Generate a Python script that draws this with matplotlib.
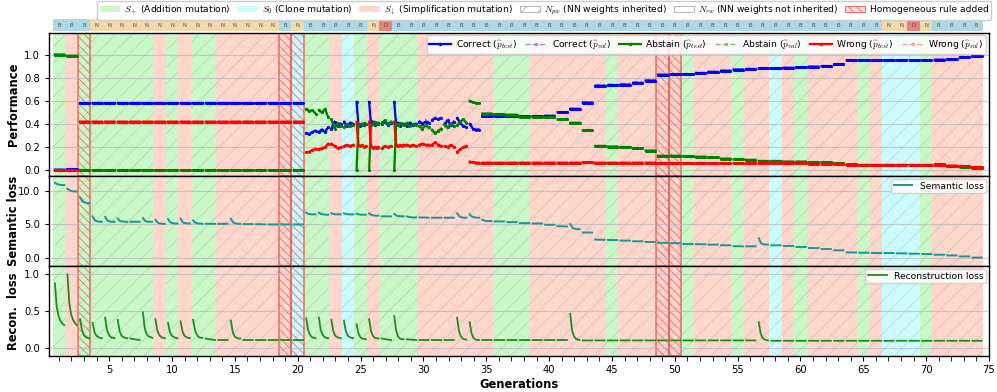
import numpy as np
import matplotlib
matplotlib.use('Agg')
import matplotlib.pyplot as plt
from matplotlib.patches import Patch
from matplotlib.lines import Line2D
from matplotlib.ticker import MultipleLocator, FormatStrFormatter

plt.rcParams['font.family'] = ['DejaVu Sans']
plt.rcParams['mathtext.fontset'] = 'cm'
plt.rcParams['hatch.linewidth'] = 0.7

GENERATIONS = list(range(1, 75))

# Mutation type per generation: a = addition (S+), c = clone (S0), s = simplification
MUTATION = ("asa" + "aaaaa" + "s" + "a" + "s" + "aa" + "ssssss" + "c" + "aa" + "s" + "c" + "a" + "s"
            + "aaa" + "ssssss" + "aaa" + "ssssss" + "a" + "sssss" + "a" + "sss" + "a" + "ss" + "c"
            + "s" + "a" + "ssss" + "a" + "s" + "ccc" + "a" + "ssss")

# Letter shown in the strip above the plot
MODEL = "BBB" + "N" * 15 + "B" + "N" + "BBBBB" + "N" + "D" + "B" * 39 + "NN" + "D" + "N" + "BBBB"

HOMOGENEOUS = [3, 19, 20, 49, 50]
NOT_INHERITED = [2, 9, 11, 23]

# Performance, one entry per generation (single value = flat over the generation)
CORRECT_TEST = (
    [0.005, 0.01] + [0.58] * 18 +
    [[0.32, 0.31, 0.33, 0.34], [0.33, 0.35, 0.33, 0.37], [0.36, 0.42, 0.38, 0.40], [0.42, 0.38, 0.41, 0.40],
     [0.59, 0.40, 0.38, 0.40, 0.39, 0.40], [0.59, 0.40, 0.42, 0.39, 0.41, 0.40], [0.40, 0.42, 0.39, 0.41],
     [0.59, 0.39, 0.41, 0.38, 0.40, 0.40], [0.38, 0.41, 0.39, 0.40], [0.42, 0.40, 0.42, 0.41],
     [0.43, 0.45, 0.44, 0.45], [0.40, 0.43, 0.39, 0.42], [0.45, 0.41, 0.38, 0.37], [0.40, 0.36, 0.35, 0.35]] +
    [0.47, 0.47, 0.465, 0.465, 0.465, 0.47, 0.50, 0.53, 0.585, 0.73,
     0.735, 0.74, 0.755, 0.775, 0.825, 0.83, 0.83, 0.84, 0.85, 0.86,
     0.87, 0.875, 0.88, 0.88, 0.885, 0.89, 0.895, 0.90, 0.915, 0.95,
     0.95, 0.95, 0.95, 0.95, 0.95, 0.95, 0.955, 0.96, 0.975, 0.99]
)
CORRECT_VAL = (
    [0.005, 0.01] + [0.58] * 18 +
    [[0.33, 0.32, 0.34, 0.35], [0.34, 0.36, 0.35, 0.37], [0.38, 0.41, 0.39, 0.41], [0.41, 0.39, 0.42, 0.41],
     [0.59, 0.41, 0.39, 0.41, 0.40, 0.41], [0.59, 0.41, 0.43, 0.40, 0.42, 0.41], [0.41, 0.43, 0.40, 0.42],
     [0.59, 0.40, 0.42, 0.39, 0.41, 0.41], [0.40, 0.42, 0.40, 0.41], [0.43, 0.41, 0.44, 0.42],
     [0.44, 0.46, 0.45, 0.46], [0.41, 0.44, 0.40, 0.43], [0.46, 0.42, 0.39, 0.38], [0.41, 0.37, 0.36, 0.36]] +
    [0.475, 0.475, 0.47, 0.47, 0.47, 0.475, 0.505, 0.535, 0.59, 0.74,
     0.745, 0.75, 0.765, 0.785, 0.83, 0.835, 0.835, 0.845, 0.855, 0.865,
     0.875, 0.88, 0.885, 0.885, 0.89, 0.895, 0.90, 0.905, 0.92, 0.955,
     0.955, 0.955, 0.955, 0.955, 0.955, 0.955, 0.96, 0.965, 0.98, 0.995]
)
ABSTAIN_TEST = (
    [1.0, 0.99] + [0.0] * 18 +
    [[0.53, 0.51, 0.52, 0.49], [0.52, 0.50, 0.53, 0.46], [0.44, 0.36, 0.41, 0.38], [0.37, 0.40, 0.38, 0.39],
     [0.0, 0.38, 0.40, 0.39, 0.41, 0.40], [0.0, 0.39, 0.40, 0.42, 0.40, 0.41], [0.41, 0.43, 0.40, 0.42],
     [0.0, 0.40, 0.39, 0.41, 0.40, 0.39], [0.41, 0.38, 0.40, 0.39], [0.38, 0.36, 0.39, 0.37],
     [0.35, 0.32, 0.34, 0.36], [0.39, 0.37, 0.40, 0.38], [0.39, 0.42, 0.44, 0.41], [0.60, 0.59, 0.58, 0.58]] +
    [0.49, 0.485, 0.48, 0.46, 0.46, 0.46, 0.44, 0.41, 0.345, 0.21,
     0.205, 0.20, 0.19, 0.17, 0.125, 0.125, 0.12, 0.117, 0.11, 0.10,
     0.095, 0.09, 0.08, 0.08, 0.075, 0.075, 0.07, 0.07, 0.06, 0.05,
     0.045, 0.045, 0.045, 0.045, 0.045, 0.045, 0.05, 0.035, 0.03, 0.02]
)
ABSTAIN_VAL = (
    [1.0, 0.99] + [0.0] * 18 +
    [[0.52, 0.50, 0.51, 0.48], [0.51, 0.49, 0.51, 0.45], [0.43, 0.37, 0.40, 0.37], [0.36, 0.39, 0.37, 0.38],
     [0.0, 0.37, 0.39, 0.38, 0.40, 0.39], [0.0, 0.38, 0.39, 0.41, 0.39, 0.40], [0.40, 0.42, 0.39, 0.41],
     [0.0, 0.39, 0.38, 0.40, 0.39, 0.38], [0.40, 0.37, 0.39, 0.38], [0.36, 0.34, 0.37, 0.35],
     [0.33, 0.31, 0.33, 0.34], [0.38, 0.35, 0.38, 0.37], [0.38, 0.41, 0.43, 0.40], [0.59, 0.58, 0.575, 0.575]] +
    [0.485, 0.48, 0.475, 0.455, 0.455, 0.455, 0.435, 0.405, 0.34, 0.205,
     0.20, 0.195, 0.185, 0.165, 0.12, 0.12, 0.115, 0.112, 0.105, 0.095,
     0.09, 0.085, 0.078, 0.078, 0.072, 0.072, 0.068, 0.068, 0.058, 0.048,
     0.043, 0.043, 0.043, 0.043, 0.043, 0.043, 0.048, 0.033, 0.028, 0.018]
)
WRONG_TEST = (
    [0.0, 0.0] + [0.42] * 18 +
    [[0.155, 0.16, 0.175, 0.185], [0.18, 0.19, 0.20, 0.23], [0.23, 0.21, 0.19, 0.20], [0.21, 0.22, 0.21, 0.22],
     [0.42, 0.22, 0.21, 0.22, 0.20, 0.21], [0.42, 0.21, 0.19, 0.20, 0.19, 0.20], [0.19, 0.21, 0.20, 0.21],
     [0.42, 0.22, 0.21, 0.22, 0.21, 0.22], [0.22, 0.21, 0.22, 0.21], [0.22, 0.23, 0.22, 0.22],
     [0.22, 0.24, 0.22, 0.21], [0.21, 0.20, 0.22, 0.20], [0.16, 0.18, 0.20, 0.21], [0.075, 0.068, 0.066, 0.065]] +
    [0.065] * 8 + [0.07] + [0.065] * 5 + [0.06] * 12 + [0.055] * 3 + [0.045] * 8 + [0.04, 0.035, 0.025]
)
WRONG_VAL = (
    [0.0, 0.0] + [0.42] * 18 +
    [[0.15, 0.155, 0.165, 0.175], [0.17, 0.18, 0.19, 0.22], [0.22, 0.20, 0.18, 0.19], [0.20, 0.21, 0.20, 0.21],
     [0.42, 0.21, 0.20, 0.21, 0.19, 0.20], [0.42, 0.20, 0.18, 0.19, 0.18, 0.19], [0.18, 0.20, 0.19, 0.20],
     [0.42, 0.21, 0.20, 0.21, 0.20, 0.21], [0.21, 0.20, 0.21, 0.20], [0.21, 0.22, 0.21, 0.21],
     [0.21, 0.23, 0.21, 0.20], [0.20, 0.19, 0.21, 0.19], [0.15, 0.17, 0.19, 0.20], [0.07, 0.065, 0.063, 0.062]] +
    [0.062] * 8 + [0.067] + [0.062] * 5 + [0.058] * 12 + [0.052] * 3 + [0.043] * 8 + [0.038, 0.033, 0.023]
)

# Semantic loss curve inside each generation
SEMANTIC = [
    [11.2, 11.0, 10.9, 10.85, 10.85], [10.3, 10.05, 9.95, 9.9, 9.9], [9.0, 8.45, 8.25, 8.2, 8.15],
    [6.2, 5.6, 5.45, 5.4, 5.4], [6.1, 5.55, 5.45, 5.4, 5.4], [5.85, 5.5, 5.45, 5.4, 5.4], [5.4, 5.4],
    [5.95, 5.5, 5.4, 5.4, 5.4], [5.7, 5.25, 5.15, 5.1, 5.1], [5.8, 5.3, 5.2, 5.15, 5.15],
    [5.85, 5.3, 5.2, 5.15, 5.15], [5.6, 5.25, 5.15, 5.15, 5.1], [5.1, 5.1], [5.1, 5.1],
    [5.85, 5.3, 5.15, 5.1, 5.1], [5.05, 5.05], [5.05, 5.0], [5.0, 5.0], [5.0, 5.0], [5.0, 5.0],
    [6.75, 6.55, 6.5, 6.5, 6.5], [6.75, 6.55, 6.5, 6.45, 6.45], [6.65, 6.55, 6.5, 6.5, 6.5],
    [6.65, 6.55, 6.5, 6.5, 6.5], [6.6, 6.5, 6.45, 6.45, 6.45], [6.65, 6.4, 6.35, 6.3, 6.3], [6.2, 6.2],
    [6.55, 6.3, 6.25, 6.2, 6.2], [6.2, 6.1, 6.05, 6.05, 6.05], [6.05, 6.0], [6.0, 6.0], [6.0, 6.0],
    [6.65, 6.2, 6.05, 6.0, 6.0], [6.5, 6.15, 6.05, 6.0, 6.0], [5.7, 5.55, 5.5, 5.5, 5.5],
    [5.45, 5.45], [5.35, 5.35], [5.2, 5.2], [5.15, 5.15], [4.95, 4.95], [4.75, 4.7],
    [5.05, 4.5, 4.35, 4.3, 4.3], [3.8, 3.8], [2.75, 2.72], [2.7, 2.68], [2.6, 2.6], [2.5, 2.5],
    [2.4, 2.4], [2.27, 2.27], [2.22, 2.22], [2.1, 2.1], [2.07, 2.05], [2.0, 2.0], [1.9, 1.9],
    [1.78, 1.75], [1.75, 1.75], [2.95, 2.2, 2.05, 2.0, 2.0], [1.9, 1.9], [1.8, 1.8], [1.65, 1.65],
    [1.5, 1.5], [1.35, 1.35], [1.15, 1.15], [0.85, 0.83], [0.8, 0.8], [0.75, 0.75], [0.75, 0.75],
    [0.7, 0.7], [0.65, 0.65], [0.6, 0.6], [0.5, 0.5], [0.4, 0.4], [0.25, 0.25], [0.07, 0.07],
]

# Reconstruction loss curve inside each generation
RECON = [
    [0.87, 0.55, 0.43, 0.37, 0.33, 0.31], [0.99, 0.6, 0.45, 0.38, 0.34, 0.31],
    [0.39, 0.25, 0.18, 0.15, 0.14, 0.135], [0.34, 0.22, 0.17, 0.15, 0.14, 0.135],
    [0.41, 0.24, 0.18, 0.15, 0.14, 0.135], [0.38, 0.23, 0.17, 0.15, 0.14, 0.135], [0.13, 0.12, 0.11],
    [0.48, 0.27, 0.19, 0.16, 0.15, 0.14], [0.39, 0.24, 0.18, 0.15, 0.14, 0.135],
    [0.34, 0.22, 0.17, 0.15, 0.14, 0.135], [0.36, 0.23, 0.17, 0.15, 0.14, 0.135],
    [0.38, 0.24, 0.18, 0.15, 0.14, 0.14], [0.13, 0.12, 0.11], [0.11, 0.11],
    [0.37, 0.22, 0.16, 0.14, 0.13, 0.13], [0.11, 0.11], [0.11, 0.11], [0.11, 0.11], [0.11, 0.11],
    [0.11, 0.11], [0.40, 0.24, 0.18, 0.15, 0.14, 0.135], [0.41, 0.25, 0.18, 0.15, 0.14, 0.135],
    [0.38, 0.23, 0.17, 0.15, 0.14, 0.135], [0.37, 0.23, 0.17, 0.15, 0.14, 0.135],
    [0.32, 0.2, 0.15, 0.13, 0.125, 0.12], [0.39, 0.23, 0.17, 0.14, 0.135, 0.13], [0.13, 0.12, 0.11],
    [0.43, 0.24, 0.16, 0.13, 0.12, 0.12], [0.12, 0.11], [0.11, 0.11], [0.11, 0.11], [0.11, 0.11],
    [0.41, 0.23, 0.16, 0.13, 0.12, 0.115], [0.35, 0.2, 0.14, 0.12, 0.11, 0.11],
    [0.11, 0.11], [0.11, 0.11], [0.11, 0.11], [0.11, 0.11], [0.11, 0.11], [0.11, 0.11], [0.11, 0.11],
    [0.46, 0.24, 0.16, 0.13, 0.115, 0.11],
] + [[0.105, 0.105]] * 14 + [[0.35, 0.2, 0.14, 0.12, 0.11, 0.105]] + [[0.1, 0.1]] * 17

BAND_COLORS = {'a': '#c9f7c7', 'c': '#cbfbfd', 's': '#fdd6cc'}
STRIP_COLORS = {'B': '#add8e6', 'N': '#f3d9aa', 'D': '#ee7f7f'}
LABEL_SIZE = 8.3
SMALL = 6.6


def build_series(entries, n_flat=8):  # joins the per-generation segments, NaN between them
    xs, ys = [], []
    for g, e in zip(GENERATIONS, entries):
        vals = np.array(e) if isinstance(e, list) else np.full(n_flat, e)
        xs.extend(np.linspace(g - 0.32, g + 0.42, len(vals)))
        ys.extend(vals)
        xs.append(np.nan)
        ys.append(np.nan)
    return np.array(xs), np.array(ys)


def draw_backgrounds(ax):  # mutation bands, weight hatch and homogeneous rule marks
    for g, m in zip(GENERATIONS, MUTATION):
        ax.axvspan(g - 0.5, g + 0.5, facecolor=BAND_COLORS[m], edgecolor='none', lw=0, zorder=0)
        if g not in NOT_INHERITED:
            ax.axvspan(g - 0.5, g + 0.5, facecolor='none', edgecolor=(0.5, 0.5, 0.5, 0.22),
                       hatch='//', lw=0, zorder=0.1)
    for g in HOMOGENEOUS:
        ax.axvspan(g - 0.5, g + 0.5, facecolor='none', edgecolor=(0.94, 0.35, 0.35, 0.75),
                   hatch='\\\\\\\\', lw=1.3, zorder=0.2)


def style_axis(ax, label):
    ax.set_xlim(0.2, 75.0)
    ax.grid(axis='y', color='#b0b0b0', lw=0.8, alpha=0.6)
    ax.set_ylabel(label, fontsize=LABEL_SIZE, fontweight='bold')
    ax.yaxis.set_label_coords(-0.031, 0.5)
    ax.yaxis.set_major_formatter(FormatStrFormatter('%.1f'))
    ax.tick_params(axis='y', direction='out', length=3, labelsize=7.2)
    for sp in ax.spines.values():
        sp.set_linewidth(1.0)


def plot_performance(ax):
    draw_backgrounds(ax)
    series = [
        (CORRECT_VAL, '#8c8cff', '--', None), (ABSTAIN_VAL, '#7fc07f', '--', None), (WRONG_VAL, '#ff9a9a', '--', None),
        (CORRECT_TEST, '#0000ff', '-', '.'), (ABSTAIN_TEST, '#008000', '-', '.'), (WRONG_TEST, '#ff0000', '-', '.'),
    ]
    for data, color, ls, mk in series:
        x, y = build_series(data)
        if mk is None:
            ax.plot(x, y, color=color, ls=ls, lw=1.0, zorder=3)
        else:
            ax.plot(x, y, color=color, ls=ls, lw=1.6, marker=mk, ms=2.5, zorder=4)
    ax.set_ylim(-0.05, 1.19)
    ax.set_yticks([0.0, 0.2, 0.4, 0.6, 0.8, 1.0])
    style_axis(ax, 'Performance')

    handles = [
        Line2D([], [], color='#0000ff', lw=1.6, marker='.', ms=3),
        Line2D([], [], color='#8c8cff', lw=1.0, ls='--', marker='.', ms=3),
        Line2D([], [], color='#008000', lw=1.6, marker='.', ms=3),
        Line2D([], [], color='#7fc07f', lw=1.0, ls='--', marker='.', ms=3),
        Line2D([], [], color='#ff0000', lw=1.6, marker='.', ms=3),
        Line2D([], [], color='#ff9a9a', lw=1.0, ls='--', marker='.', ms=3),
    ]
    labels = [r'Correct ($\widehat{p}_{test}$)', r'Correct ($\widehat{p}_{val}$)',
              r'Abstain ($\widehat{p}_{test}$)', r'Abstain ($\widehat{p}_{val}$)',
              r'Wrong ($\widehat{p}_{test}$)', r'Wrong ($\widehat{p}_{val}$)']
    ax.legend(handles, labels, loc='upper right', ncol=6, fontsize=SMALL, borderaxespad=0.3,
              handlelength=2.4, columnspacing=0.9, handletextpad=0.5, borderpad=0.3, framealpha=0.85)


def plot_semantic(ax):
    draw_backgrounds(ax)
    x, y = build_series(SEMANTIC)
    ax.plot(x, y, color='#1f9494', lw=1.4, zorder=4, label='Semantic loss')
    ax.set_ylim(-1.2, 12.2)
    ax.set_yticks([0.0, 5.0, 10.0])
    style_axis(ax, 'Semantic loss')
    ax.legend(loc='upper right', fontsize=SMALL, borderaxespad=0.3, borderpad=0.3, framealpha=0.85)


def plot_recon(ax):
    draw_backgrounds(ax)
    x, y = build_series(RECON)
    ax.plot(x, y, color='#228b22', lw=1.3, zorder=4, label='Reconstruction loss')
    ax.set_ylim(-0.1, 1.1)
    ax.set_yticks([0.0, 0.5, 1.0])
    style_axis(ax, 'Recon.  loss')
    ax.legend(loc='upper right', fontsize=SMALL, borderaxespad=0.3, borderpad=0.3, framealpha=0.85)


def plot_strip(ax):  # coloured letter row above the panels
    for g, m in zip(GENERATIONS, MODEL):
        ax.bar(g, 1, width=1.0, color=STRIP_COLORS[m], lw=0)
        ax.text(g, 0.45, m, fontsize=3.8, ha='center', va='center', color='#505050')
    ax.set_xlim(0.2, 75.0)
    ax.set_ylim(0, 1)
    ax.axis('off')


if __name__ == "__main__":
    fig = plt.figure(figsize=(9.97, 3.92), dpi=100)
    ax1 = fig.add_axes([0.049, 0.551, 0.943, 0.366])
    ax2 = fig.add_axes([0.049, 0.321, 0.943, 0.230], sharex=ax1)
    ax3 = fig.add_axes([0.049, 0.0926, 0.943, 0.2284], sharex=ax1)
    strip = fig.add_axes([0.049, 0.921, 0.943, 0.031])

    plot_performance(ax1)
    plot_semantic(ax2)
    plot_recon(ax3)
    plot_strip(strip)

    for ax in (ax1, ax2):
        ax.tick_params(axis='x', which='both', bottom=False, labelbottom=False)
    ax3.xaxis.set_major_locator(MultipleLocator(5))
    ax3.xaxis.set_minor_locator(MultipleLocator(1))
    ax3.xaxis.set_major_formatter(FormatStrFormatter('%d'))
    ax3.tick_params(axis='x', which='both', direction='out', length=3.5, labelsize=7.2)
    ax3.set_xlabel('Generations', fontsize=LABEL_SIZE, fontweight='bold', labelpad=2)
    ax3.set_xlim(0.2, 75.0)

    # Figure legend for the background encoding
    bg_handles = [
        Patch(facecolor=BAND_COLORS['a'], edgecolor='none'),
        Patch(facecolor=BAND_COLORS['c'], edgecolor='none'),
        Patch(facecolor=BAND_COLORS['s'], edgecolor='none'),
        Patch(facecolor='white', edgecolor='#b8b8b8', hatch='//', lw=0.8),
        Patch(facecolor='white', edgecolor='#b8b8b8', lw=0.8),
        Patch(facecolor='#fde0dc', edgecolor='#f07070', hatch='\\\\\\\\', lw=0.8),
    ]
    bg_labels = [r'$S_+$ (Addition mutation)', r'$S_0$ (Clone mutation)',
                 r'$S_\downarrow$ (Simplification mutation)', r'$N_{pw}$ (NN weights inherited)',
                 r'$N_{rw}$ (NN weights not inherited)', 'Homogeneous rule added']
    fig.legend(bg_handles, bg_labels, loc='upper right', bbox_to_anchor=(0.996, 1.003), ncol=6,
               fontsize=SMALL, handlelength=2.2, columnspacing=0.75, handletextpad=0.45,
               borderpad=0.3, borderaxespad=0.2, framealpha=1.0)

    fig.savefig('out.png', dpi=100)
